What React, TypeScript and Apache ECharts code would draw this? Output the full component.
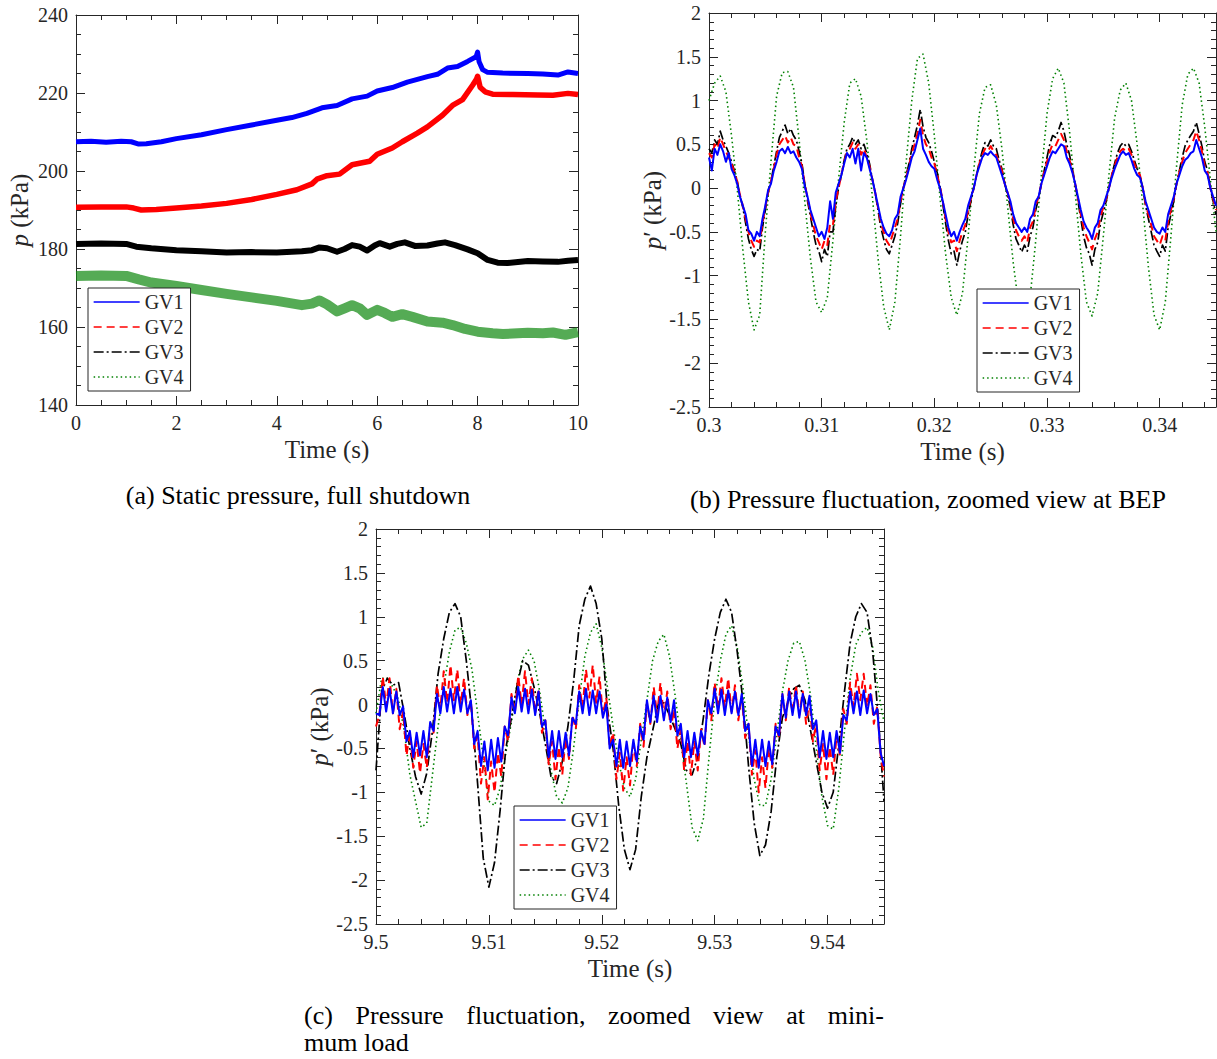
import React, { useEffect, useRef } from "react";
import * as echarts from "echarts";

// ---------------- data ----------------
const NAMES = ["GV1", "GV2", "GV3", "GV4"];

// (a) Static pressure, full shutdown: [time (s), p (kPa)]
const A_GV1: number[][] = [
  [0, 207.5], [0.3, 207.6], [0.6, 207.4], [0.9, 207.6], [1.1, 207.5], [1.25, 206.9], [1.4, 207.0], [1.7, 207.5],
  [2.0, 208.3], [2.5, 209.3], [3.0, 210.6], [3.5, 211.8], [4.0, 213.0], [4.3, 213.7], [4.6, 214.8], [4.9, 216.2],
  [5.2, 216.8], [5.5, 218.5], [5.8, 219.2], [6.0, 220.5], [6.3, 221.4], [6.6, 222.8], [7.0, 224.2], [7.2, 224.8],
  [7.4, 226.4], [7.6, 226.8], [7.8, 228.1], [7.97, 229.3], [8.0, 230.5], [8.03, 228.0], [8.1, 226.0], [8.2, 225.3],
  [8.5, 225.1], [9.0, 225.0], [9.3, 224.9], [9.6, 224.6], [9.8, 225.4], [10.0, 225.0],
];
const A_GV2: number[][] = [
  [0, 190.7], [0.5, 190.8], [1.0, 190.8], [1.15, 190.5], [1.3, 190.0], [1.6, 190.1], [2.0, 190.5], [2.5, 191.0],
  [3.0, 191.7], [3.5, 192.7], [4.0, 194.0], [4.4, 195.2], [4.7, 196.7], [4.8, 197.9], [5.0, 198.8], [5.25, 199.2],
  [5.5, 201.6], [5.85, 202.5], [6.0, 204.3], [6.3, 205.9], [6.5, 207.5], [6.8, 209.7], [7.0, 211.3], [7.3, 214.3],
  [7.5, 216.8], [7.7, 218.3], [7.9, 222.0], [7.98, 223.6], [8.0, 224.3], [8.05, 221.5], [8.15, 220.3], [8.3, 219.7],
  [8.7, 219.6], [9.2, 219.5], [9.5, 219.4], [9.8, 219.9], [10.0, 219.6],
];
const A_GV3: number[][] = [
  [0, 181.3], [0.5, 181.4], [1.0, 181.3], [1.2, 180.6], [1.5, 180.2], [2.0, 179.7], [2.5, 179.4], [3.0, 179.1],
  [3.5, 179.2], [4.0, 179.1], [4.5, 179.4], [4.7, 179.7], [4.85, 180.4], [5.0, 180.2], [5.2, 179.3], [5.35, 180.0],
  [5.5, 181.0], [5.65, 180.6], [5.8, 179.6], [5.95, 180.9], [6.05, 181.5], [6.25, 180.6], [6.4, 181.3], [6.55, 181.7],
  [6.75, 180.8], [7.0, 180.9], [7.2, 181.4], [7.35, 181.7], [7.55, 181.0], [7.8, 179.9], [8.0, 178.9], [8.2, 177.2],
  [8.4, 176.5], [8.6, 176.4], [9.0, 176.9], [9.3, 176.8], [9.6, 176.7], [9.8, 177.0], [10.0, 177.2],
];
const A_GV4: number[][] = [
  [0, 173.1], [0.5, 173.2], [1.0, 173.1], [1.25, 172.2], [1.5, 171.4], [2.0, 170.5], [2.5, 169.5], [3.0, 168.5],
  [3.5, 167.6], [4.0, 166.7], [4.5, 165.6], [4.7, 166.0], [4.85, 166.8], [5.0, 165.8], [5.2, 164.0], [5.35, 164.8],
  [5.5, 165.6], [5.65, 164.8], [5.8, 163.1], [6.0, 164.4], [6.15, 163.6], [6.3, 162.6], [6.5, 163.3], [6.7, 162.6],
  [7.0, 161.4], [7.3, 161.1], [7.5, 160.5], [7.75, 159.5], [8.0, 158.8], [8.3, 158.4], [8.5, 158.2], [8.8, 158.4],
  [9.0, 158.5], [9.3, 158.4], [9.5, 158.6], [9.75, 158.0], [10.0, 158.7],
];

// (b) Pressure fluctuation at BEP, p' (kPa). GV1-GV3 sampled every 0.00025 s from 0.3 s, GV4 every 0.0005 s
const B_T0 = 0.3;
const B_DT_FINE = 0.00025;
const B_DT_COARSE = 0.0005;
const B_GV1 = [
  0.35, 0.2, 0.45, 0.38, 0.5, 0.42, 0.3, 0.4, 0.22, 0.15,
  0.05, -0.1, -0.2, -0.3, -0.48, -0.52, -0.6, -0.5, -0.55, -0.35,
  -0.2, -0.02, 0.05, 0.2, 0.3, 0.42, 0.45, 0.4, 0.47, 0.4,
  0.42, 0.35, 0.3, 0.22, 0.02, -0.1, -0.25, -0.35, -0.45, -0.55,
  -0.5, -0.58, -0.45, -0.15, -0.35, -0.05, 0.05, 0.15, 0.28, 0.4,
  0.35, 0.45, 0.28, 0.45, 0.2, 0.4, 0.35, 0.22, 0.1, -0.05,
  -0.2, -0.35, -0.45, -0.52, -0.55, -0.48, -0.35, -0.3, -0.1, 0.0,
  0.1, 0.22, 0.35, 0.42, 0.55, 0.68, 0.45, 0.38, 0.3, 0.25,
  0.22, 0.1, 0.0, -0.15, -0.3, -0.45, -0.55, -0.5, -0.6, -0.5,
  -0.42, -0.35, -0.2, -0.1, 0.0, 0.15, 0.25, 0.35, 0.4, 0.38,
  0.42, 0.38, 0.35, 0.25, 0.15, 0.05, -0.05, -0.15, -0.3, -0.4,
  -0.45, -0.5, -0.45, -0.5, -0.35, -0.3, -0.15, -0.1, 0.05, 0.15,
  0.25, 0.35, 0.42, 0.4, 0.45, 0.5, 0.48, 0.35, 0.28, 0.18,
  0.05, -0.1, -0.25, -0.38, -0.45, -0.5, -0.58, -0.45, -0.4, -0.25,
  -0.2, -0.1, 0.0, 0.12, 0.22, 0.3, 0.38, 0.42, 0.38, 0.4,
  0.32, 0.22, 0.15, 0.12, 0.0, -0.15, -0.25, -0.35, -0.45, -0.5,
  -0.52, -0.45, -0.5, -0.3, -0.2, -0.1, 0.05, 0.15, 0.25, 0.32,
  0.35, 0.4, 0.42, 0.55, 0.45, 0.35, 0.2, 0.15, 0.0, -0.1, -0.2,
];
const B_GV2 = [
  0.4, 0.35, 0.5, 0.45, 0.58, 0.5, 0.42, 0.35, 0.28, 0.18,
  0.08, -0.08, -0.2, -0.35, -0.5, -0.6, -0.67, -0.6, -0.62, -0.4,
  -0.22, -0.05, 0.08, 0.22, 0.38, 0.5, 0.55, 0.6, 0.52, 0.58,
  0.5, 0.48, 0.35, 0.25, 0.05, -0.12, -0.28, -0.42, -0.55, -0.62,
  -0.7, -0.6, -0.65, -0.4, -0.42, -0.15, 0.0, 0.15, 0.3, 0.42,
  0.45, 0.52, 0.45, 0.5, 0.38, 0.45, 0.35, 0.25, 0.1, -0.05,
  -0.22, -0.4, -0.5, -0.6, -0.65, -0.55, -0.45, -0.35, -0.15, 0.0,
  0.12, 0.25, 0.4, 0.5, 0.62, 0.78, 0.6, 0.5, 0.45, 0.35,
  0.28, 0.15, 0.02, -0.15, -0.35, -0.5, -0.62, -0.6, -0.72, -0.6,
  -0.5, -0.42, -0.25, -0.12, 0.0, 0.15, 0.28, 0.38, 0.45, 0.42,
  0.48, 0.42, 0.38, 0.28, 0.2, 0.05, -0.05, -0.18, -0.35, -0.48,
  -0.55, -0.6, -0.55, -0.62, -0.45, -0.38, -0.2, -0.1, 0.05, 0.18,
  0.3, 0.42, 0.5, 0.48, 0.55, 0.62, 0.55, 0.42, 0.32, 0.2,
  0.05, -0.12, -0.3, -0.45, -0.55, -0.62, -0.7, -0.58, -0.5, -0.32,
  -0.22, -0.12, 0.0, 0.15, 0.25, 0.35, 0.42, 0.45, 0.42, 0.45,
  0.38, 0.28, 0.2, 0.15, 0.0, -0.18, -0.3, -0.42, -0.55, -0.6,
  -0.65, -0.55, -0.6, -0.38, -0.25, -0.12, 0.05, 0.18, 0.3, 0.4,
  0.45, 0.5, 0.55, 0.65, 0.55, 0.42, 0.25, 0.18, 0.0, -0.12, -0.25,
];
const B_GV3 = [
  0.45, 0.4, 0.55, 0.5, 0.65, 0.55, 0.48, 0.4, 0.3, 0.2,
  0.08, -0.08, -0.22, -0.4, -0.58, -0.7, -0.78, -0.7, -0.72, -0.45,
  -0.25, -0.05, 0.08, 0.25, 0.42, 0.58, 0.65, 0.72, 0.62, 0.68,
  0.6, 0.55, 0.42, 0.28, 0.05, -0.15, -0.32, -0.5, -0.65, -0.72,
  -0.84, -0.7, -0.78, -0.5, -0.5, -0.2, 0.0, 0.15, 0.32, 0.45,
  0.5, 0.58, 0.5, 0.55, 0.45, 0.5, 0.4, 0.28, 0.1, -0.05,
  -0.25, -0.45, -0.58, -0.7, -0.75, -0.65, -0.55, -0.4, -0.18, 0.0,
  0.15, 0.28, 0.45, 0.58, 0.72, 0.9, 0.7, 0.58, 0.52, 0.42,
  0.3, 0.18, 0.02, -0.18, -0.4, -0.6, -0.75, -0.72, -0.88, -0.72,
  -0.6, -0.5, -0.3, -0.15, 0.0, 0.15, 0.3, 0.42, 0.52, 0.48,
  0.55, 0.48, 0.45, 0.32, 0.22, 0.05, -0.08, -0.22, -0.42, -0.58,
  -0.65, -0.73, -0.65, -0.72, -0.55, -0.45, -0.25, -0.12, 0.05, 0.2,
  0.35, 0.5, 0.6, 0.58, 0.65, 0.75, 0.65, 0.5, 0.38, 0.22,
  0.05, -0.15, -0.35, -0.55, -0.68, -0.75, -0.88, -0.7, -0.62, -0.4,
  -0.28, -0.15, 0.0, 0.15, 0.28, 0.4, 0.48, 0.52, 0.48, 0.5,
  0.42, 0.32, 0.22, 0.15, 0.0, -0.2, -0.35, -0.5, -0.65, -0.72,
  -0.78, -0.65, -0.72, -0.45, -0.3, -0.15, 0.05, 0.2, 0.35, 0.48,
  0.55, 0.6, 0.65, 0.75, 0.62, 0.48, 0.3, 0.2, 0.0, -0.15, -0.3,
];
const B_GV4 = [
  1.0, 1.2, 1.28, 1.1, 0.6, 0.0, -0.7, -1.3, -1.62, -1.45,
  -0.5, 0.3, 1.05, 1.32, 1.33, 1.15, 0.55, -0.15, -0.8, -1.3,
  -1.42, -1.25, -0.6, 0.1, 0.75, 1.2, 1.25, 1.05, 0.55, -0.1,
  -0.8, -1.35, -1.62, -1.3, -0.55, 0.3, 1.0, 1.48, 1.53, 1.2,
  0.6, -0.1, -0.75, -1.25, -1.45, -1.2, -0.55, 0.2, 0.85, 1.15,
  1.18, 0.95, 0.45, -0.2, -0.85, -1.35, -1.55, -1.25, -0.6, 0.15,
  0.85, 1.25, 1.37, 1.2, 0.65, -0.05, -0.75, -1.3, -1.46, -1.2,
  -0.55, 0.15, 0.8, 1.12, 1.2, 1.0, 0.5, -0.2, -0.9, -1.45,
  -1.62, -1.3, -0.55, 0.25, 0.95, 1.3, 1.37, 1.2, 0.7, 0.1, -0.5,
];

// (c) Pressure fluctuation at minimum load. GV1-GV2 every 0.0003 s from 9.5 s, GV3-GV4 every 0.0005 s
const C_T0 = 9.5;
const C_DT_FINE = 0.0003;
const C_DT_COARSE = 0.0005;
const C_GV1 = [
  -0.1, -0.12, 0.2, -0.08, 0.18, -0.1, 0.15, -0.12, -0.02, -0.42,
  -0.3, -0.6, -0.32, -0.58, -0.3, -0.6, -0.2, -0.3, 0.12, -0.1,
  0.2, -0.08, 0.18, -0.1, 0.2, -0.08, 0.17, -0.1, 0.05, -0.45,
  -0.3, -0.7, -0.42, -0.75, -0.4, -0.72, -0.38, -0.65, -0.25, -0.35,
  0.08, -0.1, 0.2, -0.08, 0.18, -0.1, 0.17, -0.12, 0.15, -0.25,
  -0.18, -0.6, -0.3, -0.62, -0.3, -0.6, -0.32, -0.58, -0.15, -0.22,
  0.15, -0.1, 0.18, -0.12, 0.16, -0.1, 0.15, -0.15, 0.0, -0.5,
  -0.4, -0.7, -0.4, -0.72, -0.42, -0.7, -0.4, -0.65, -0.25, -0.4,
  0.05, -0.2, 0.1, -0.2, 0.1, -0.18, 0.08, -0.2, 0.05, -0.35,
  -0.22, -0.6, -0.3, -0.6, -0.32, -0.58, -0.3, -0.45, 0.05, -0.1,
  0.18, -0.1, 0.17, -0.12, 0.16, -0.1, 0.15, -0.12, 0.12, -0.3,
  -0.22, -0.7, -0.4, -0.72, -0.4, -0.7, -0.42, -0.68, -0.25, -0.35,
  0.12, -0.15, 0.15, -0.12, 0.15, -0.15, 0.12, -0.12, 0.1, -0.28,
  -0.18, -0.6, -0.3, -0.62, -0.32, -0.6, -0.3, -0.55, -0.12, -0.18,
  0.15, -0.1, 0.15, -0.12, 0.16, -0.1, 0.12, -0.12, -0.05, -0.55, -0.7,
];
const C_GV2 = [
  -0.25, -0.12, 0.32, -0.02, 0.3, -0.1, 0.18, -0.28, -0.08, -0.58,
  -0.32, -0.72, -0.42, -0.78, -0.45, -0.72, -0.22, -0.32, 0.22, -0.05,
  0.38, 0.02, 0.45, 0.05, 0.4, 0.0, 0.3, -0.12, 0.05, -0.5,
  -0.35, -0.9, -0.6, -1.08, -0.65, -1.0, -0.55, -0.82, -0.25, -0.42,
  0.12, -0.1, 0.33, 0.0, 0.38, 0.0, 0.3, -0.1, 0.18, -0.32,
  -0.18, -0.68, -0.42, -0.85, -0.48, -0.8, -0.38, -0.62, -0.12, -0.28,
  0.22, -0.03, 0.4, 0.08, 0.45, 0.02, 0.32, -0.12, 0.08, -0.48,
  -0.32, -0.85, -0.55, -0.98, -0.6, -0.92, -0.45, -0.7, -0.22, -0.48,
  0.02, -0.22, 0.2, -0.12, 0.25, -0.15, 0.15, -0.28, -0.05, -0.5,
  -0.28, -0.75, -0.42, -0.8, -0.42, -0.75, -0.28, -0.48, 0.05, -0.18,
  0.25, -0.05, 0.3, -0.03, 0.3, -0.08, 0.22, -0.18, 0.1, -0.38,
  -0.22, -0.8, -0.52, -1.0, -0.6, -0.95, -0.5, -0.72, -0.22, -0.38,
  0.12, -0.18, 0.2, -0.1, 0.22, -0.12, 0.15, -0.22, 0.05, -0.42,
  -0.22, -0.75, -0.45, -0.85, -0.48, -0.8, -0.35, -0.58, -0.05, -0.22,
  0.25, -0.03, 0.35, 0.05, 0.35, -0.02, 0.22, -0.22, -0.02, -0.58, -0.82,
];
const C_GV3 = [
  -0.75, 0.15, 0.3, 0.22, 0.25, -0.1, -0.5, -0.82, -1.02, -0.78,
  -0.3, 0.35, 0.75, 1.05, 1.15, 1.0, 0.5, -0.1, -0.9, -1.75,
  -2.08, -1.8, -1.2, -0.5, -0.15, 0.22, 0.5, 0.45, 0.2, -0.1,
  -0.45, -0.82, -0.9, -0.65, -0.25, 0.26, 0.9, 1.2, 1.35, 1.15,
  0.75, -0.05, -0.5, -1.15, -1.65, -1.88, -1.65, -1.05, -0.6, -0.3,
  0.0, 0.02, -0.12, -0.28, -0.45, -0.75, -0.8, -0.6, -0.15, 0.35,
  0.75, 1.05, 1.2, 1.05, 0.6, 0.05, -0.7, -1.35, -1.72, -1.6,
  -1.22, -0.6, -0.15, 0.03, 0.18, 0.22, 0.05, -0.3, -0.65, -1.0,
  -1.18, -1.0, -0.45, 0.15, 0.7, 1.0, 1.15, 1.05, 0.6, -0.15, -1.1,
];
const C_GV4 = [
  -0.1, 0.3, 0.3, 0.2, 0.05, -0.3, -0.8, -1.1, -1.4, -1.35,
  -0.8, -0.25, 0.2, 0.6, 0.85, 0.88, 0.7, 0.4, -0.1, -0.6,
  -1.1, -1.15, -0.95, -0.55, -0.2, 0.25, 0.52, 0.62, 0.5, 0.15,
  -0.3, -0.75, -1.05, -1.12, -0.95, -0.5, 0.05, 0.55, 0.82, 0.92,
  0.65, 0.2, -0.25, -0.65, -0.95, -1.05, -0.85, -0.4, 0.05, 0.5,
  0.72, 0.8, 0.55, 0.1, -0.4, -0.9, -1.4, -1.55, -1.3, -0.6,
  0.05, 0.5, 0.8, 0.9, 0.65, 0.2, -0.35, -0.85, -1.15, -1.15,
  -0.85, -0.35, 0.15, 0.5, 0.7, 0.72, 0.5, 0.1, -0.5, -1.05,
  -1.38, -1.42, -0.95, -0.3, 0.3, 0.68, 0.82, 0.88, 0.65, 0.15, -0.2,
];

const CAPTION_A = "(a) Static pressure, full shutdown";
const CAPTION_B = "(b) Pressure fluctuation, zoomed view at BEP";
const CAPTION_C_LINE1 = ["(c)", "Pressure", "fluctuation,", "zoomed", "view", "at", "mini-"];
const CAPTION_C_LINE2 = "mum load";

// ---------------- styles ----------------
const FONT = "'Liberation Serif', 'Times New Roman', serif";
const INK = "#262626";
const CAP_SIZE = 26;
const COLOR: Record<string, string> = { GV1: "#0000ff", GV2: "#ff0000", GV3: "#000000", GV4: "#008000" };
const DASH: Record<string, any> = { GV1: "solid", GV2: [8, 5], GV3: [10, 3, 2, 3], GV4: [1.5, 3] };

const withTime = (t0: number, dt: number, vals: number[]) =>
  vals.map((v, i) => [Number((t0 + i * dt).toFixed(6)), v]);

// left edges of words so that a caption line is justified between x0 and x1
function justify(words: string[], x0: number, x1: number, font: string): number[] {
  const ctx = document.createElement("canvas").getContext("2d");
  let widths = words.map((w) => w.length * 12);
  if (ctx) {
    ctx.font = font;
    widths = words.map((w) => ctx.measureText(w).width);
  }
  const total = widths.reduce((s, w) => s + w, 0);
  const gap = (x1 - x0 - total) / (words.length - 1);
  let x = x0;
  return widths.map((w) => {
    const p = x;
    x += w + gap;
    return p;
  });
}

function axisSet(gi: number, x: any, y: any, yName: string) {
  const ticks = (minor: number) => ({
    axisLine: { show: true, onZero: false, lineStyle: { color: INK, width: 1 } },
    axisTick: { show: true, inside: true, length: 9, lineStyle: { color: INK, width: 1 } },
    minorTick: { show: true, splitNumber: minor, length: 5, lineStyle: { color: INK, width: 1 } },
    splitLine: { show: false },
    minorSplitLine: { show: false },
  });
  const label = { fontFamily: FONT, fontSize: 20, color: INK, margin: 8 };
  const xr = { min: x.min, max: x.max, interval: x.interval };
  const yr = { min: y.min, max: y.max, interval: y.interval };
  const xAxes = [
    {
      type: "value", gridIndex: gi, position: "bottom", ...xr, ...ticks(x.minor),
      axisLabel: { ...label, showMaxLabel: x.showMax },
      name: "Time (s)", nameLocation: "middle", nameGap: 32,
      nameTextStyle: { fontFamily: FONT, fontSize: 25, color: INK },
    },
    { type: "value", gridIndex: gi, position: "top", ...xr, ...ticks(x.minor), axisLabel: { show: false } },
  ];
  const yAxes = [
    {
      type: "value", gridIndex: gi, position: "left", ...yr, ...ticks(y.minor),
      axisLabel: { ...label },
      name: yName, nameLocation: "middle", nameGap: 44, nameRotate: 90,
      nameTextStyle: {
        fontFamily: FONT, fontSize: 25, color: INK,
        rich: { i: { fontFamily: FONT, fontSize: 25, fontStyle: "italic", color: INK } },
      },
    },
    { type: "value", gridIndex: gi, position: "right", ...yr, ...ticks(y.minor), axisLabel: { show: false } },
  ];
  return { xAxes, yAxes };
}

function line(name: string, data: number[][], axisIdx: number, width: number, dashed: boolean, opacity = 1, color?: string) {
  return {
    type: "line", name, data, xAxisIndex: axisIdx, yAxisIndex: axisIdx,
    symbol: "none", showSymbol: false, silent: true, clip: true,
    lineStyle: { color: color || COLOR[name], width, type: dashed ? DASH[name] : "solid", opacity, cap: "butt", join: "round" },
    itemStyle: { color: COLOR[name] },
    emphasis: { disabled: true },
  };
}

function legendAt(left: number, top: number) {
  return {
    orient: "vertical", left, top, itemWidth: 46, itemHeight: 14, itemGap: 5,
    padding: [4, 7, 4, 5], backgroundColor: "#ffffff", borderColor: INK, borderWidth: 1, borderRadius: 0,
    selectedMode: false, z: 10,
    textStyle: { fontFamily: FONT, fontSize: 20, color: INK },
    itemStyle: { opacity: 0 },
    data: NAMES.map((n) => ({
      name: n,
      itemStyle: { opacity: 0 },
      lineStyle: { type: DASH[n], width: 1.3, color: COLOR[n], opacity: 1 },
    })),
  };
}

function buildOption() {
  const a = axisSet(0, { min: 0, max: 10, interval: 2, minor: 4 }, { min: 140, max: 240, interval: 20, minor: 4 }, "{i|p} (kPa)");
  const b = axisSet(1, { min: 0.3, max: 0.345, interval: 0.01, minor: 5, showMax: false }, { min: -2.5, max: 2, interval: 0.5, minor: 5 }, "{i|p}′ (kPa)");
  const c = axisSet(2, { min: 9.5, max: 9.545, interval: 0.01, minor: 5, showMax: false }, { min: -2.5, max: 2, interval: 0.5, minor: 5 }, "{i|p}′ (kPa)");

  const series = [
    // (a) dense noisy records appear as bands
    line("GV1", A_GV1, 0, 5, false),
    line("GV2", A_GV2, 0, 5.5, false),
    line("GV3", A_GV3, 0, 6, false),
    line("GV4", A_GV4, 0, 10, false, 0.72, "#138a13"),
    // (b) GV1 drawn last (on top)
    line("GV4", withTime(B_T0, B_DT_COARSE, B_GV4), 2, 1.6, true),
    line("GV3", withTime(B_T0, B_DT_FINE, B_GV3), 2, 1.7, true),
    line("GV2", withTime(B_T0, B_DT_FINE, B_GV2), 2, 2, true),
    line("GV1", withTime(B_T0, B_DT_FINE, B_GV1), 2, 2, true),
    // (c)
    line("GV4", withTime(C_T0, C_DT_COARSE, C_GV4), 4, 1.6, true),
    line("GV3", withTime(C_T0, C_DT_COARSE, C_GV3), 4, 1.7, true),
    line("GV2", withTime(C_T0, C_DT_FINE, C_GV2), 4, 2, true),
    line("GV1", withTime(C_T0, C_DT_FINE, C_GV1), 4, 2, true),
  ];

  const capStyle = { fontFamily: FONT, fontSize: CAP_SIZE, lineHeight: 28, fill: "#000000" };
  const wordX = justify(CAPTION_C_LINE1, 304, 884, `${CAP_SIZE}px 'Liberation Serif'`);
  const graphic: any[] = [
    { type: "text", x: 298, y: 495, style: { ...capStyle, text: CAPTION_A, align: "center", verticalAlign: "middle" } },
    { type: "text", x: 928, y: 499, style: { ...capStyle, text: CAPTION_B, align: "center", verticalAlign: "middle" } },
    ...CAPTION_C_LINE1.map((w, i) => ({
      type: "text", x: wordX[i], y: 1015, style: { ...capStyle, text: w, align: "left", verticalAlign: "middle" },
    })),
    { type: "text", x: 304, y: 1042, style: { ...capStyle, text: CAPTION_C_LINE2, align: "left", verticalAlign: "middle" } },
  ];

  return {
    animation: false,
    backgroundColor: "#ffffff",
    textStyle: { fontFamily: FONT },
    grid: [
      { left: 76, top: 15, width: 502, height: 390, outerBoundsMode: "none" },
      { left: 709, top: 13, width: 507, height: 394, outerBoundsMode: "none" },
      { left: 376, top: 529, width: 508, height: 395, outerBoundsMode: "none" },
    ],
    xAxis: [...a.xAxes, ...b.xAxes, ...c.xAxes],
    yAxis: [...a.yAxes, ...b.yAxes, ...c.yAxes],
    legend: [legendAt(88, 288), legendAt(977, 289), legendAt(514, 806)],
    series,
    graphic,
  };
}

export default function App() {
  const ref = useRef<HTMLDivElement>(null);
  useEffect(() => {
    if (!ref.current) return;
    const chart = echarts.init(ref.current, null, { renderer: "svg" });
    chart.setOption(buildOption() as any);
    return () => chart.dispose();
  }, []);
  return (
    <div
      ref={ref}
      style={{ position: "fixed", left: 0, top: 0, width: 1217, height: 1059, background: "#ffffff" }}
    />
  );
}
